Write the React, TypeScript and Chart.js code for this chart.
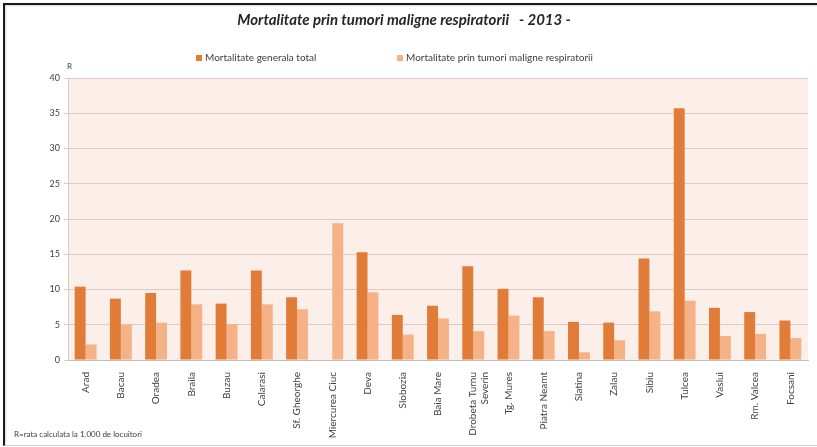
import React, { useEffect, useRef } from 'react';
import { Chart, registerables } from 'chart.js';

Chart.register(...registerables);

const categories: (string | string[])[] = [
  'Arad', 'Bacau', 'Oradea', 'Braila', 'Buzau', 'Calarasi', 'Sf. Gheorghe',
  'Miercurea Ciuc', 'Deva', 'Slobozia', 'Baia Mare', ['Drobeta Turnu', 'Severin'],
  'Tg. Mures', 'Piatra Neamt', 'Slatina', 'Zalau', 'Sibiu', 'Tulcea', 'Vaslui',
  'Rm. Valcea', 'Focsani',
];
const generalTotal: (number | null)[] = [
  10.4, 8.7, 9.5, 12.7, 8.0, 12.7, 8.9, null, 15.3, 6.4, 7.7, 13.3,
  10.1, 8.9, 5.4, 5.3, 14.4, 35.7, 7.4, 6.8, 5.6,
];
const respiratory: number[] = [
  2.2, 5.0, 5.3, 7.9, 5.1, 7.9, 7.2, 19.4, 9.6, 3.6, 5.9, 4.1,
  6.3, 4.1, 1.1, 2.8, 6.9, 8.4, 3.4, 3.7, 3.1,
];
const seriesNames = ['Mortalitate generala total', 'Mortalitate prin tumori maligne respiratorii'];
const titleText = 'Mortalitate prin tumori maligne respiratorii   - 2013 -';
const axisUnit = 'R';
const footnote = 'R=rata calculata la 1.000 de locuitori';
const yMin = 0;
const yMax = 40;
const yStep = 5;

const DARK = '#E07C38';
const LIGHT = '#F5B287';
const FONT = 'Lato, "Open Sans", sans-serif';

const decorPlugin = {
  id: 'decor',
  beforeDraw(chart: any) {
    const { ctx, chartArea } = chart;
    ctx.save();
    ctx.fillStyle = '#FCEEE8';
    ctx.fillRect(chartArea.left, chartArea.top, chartArea.right - chartArea.left, chartArea.bottom - chartArea.top);
    ctx.restore();
  },
  afterDraw(chart: any) {
    const { ctx, chartArea } = chart;
    ctx.save();
    // custom legend
    ctx.font = `10px ${FONT}`;
    ctx.textBaseline = 'middle';
    ctx.textAlign = 'left';
    const legendY = 58;
    const items = [
      { x: 196, color: DARK, text: seriesNames[0] },
      { x: 397, color: LIGHT, text: seriesNames[1] },
    ];
    items.forEach((it) => {
      ctx.fillStyle = it.color;
      ctx.fillRect(it.x, legendY - 3, 6, 6);
      ctx.fillStyle = '#404040';
      ctx.fillText(it.text, it.x + 9, legendY);
    });
    // axis unit
    ctx.font = `8px ${FONT}`;
    ctx.fillStyle = '#404040';
    ctx.fillText(axisUnit, chartArea.left - 1, 66);
    // footnote
    ctx.font = `8px ${FONT}`;
    ctx.fillText(footnote, 14, 434);
    ctx.restore();
  },
};

export default function App() {
  const ref = useRef<HTMLCanvasElement | null>(null);
  useEffect(() => {
    if (!ref.current) return;
    const chart = new Chart(ref.current, {
      type: 'bar',
      data: {
        labels: categories as any,
        datasets: [
          { label: seriesNames[0], data: generalTotal as any, backgroundColor: DARK, barPercentage: 1, categoryPercentage: 0.62 },
          { label: seriesNames[1], data: respiratory, backgroundColor: LIGHT, barPercentage: 1, categoryPercentage: 0.62 },
        ],
      },
      options: {
        animation: false,
        responsive: false,
        maintainAspectRatio: false,
        layout: { padding: { left: 0, right: 9, top: 0, bottom: 0 } },
        plugins: {
          legend: { display: false },
          tooltip: { enabled: false },
          title: {
            display: true,
            text: titleText,
            color: '#262626',
            font: { family: FONT, size: 15, weight: 'bold', style: 'italic' },
            padding: { top: 11, bottom: 49 },
          },
        },
        scales: {
          x: {
            grid: { display: false },
            border: { display: true, color: '#BFBFBF' },
            ticks: {
              color: '#404040',
              font: { family: FONT, size: 10 },
              minRotation: 90,
              maxRotation: 90,
              autoSkip: false,
              padding: 4,
            },
            afterFit(scale: any) { scale.height = 87; },
          },
          y: {
            min: yMin,
            max: yMax,
            ticks: { stepSize: yStep, color: '#404040', font: { family: FONT, size: 9 }, padding: 4 },
            grid: { color: '#D9CAC5', tickLength: 4 },
            border: { display: true, color: '#D9CAC5' },
            afterFit(scale: any) { scale.width = 68; },
          },
        },
      },
      plugins: [decorPlugin],
    });
    return () => chart.destroy();
  }, []);

  return (
    <div style={{ position: 'fixed', left: 0, top: 0, width: 817, height: 447, background: '#fff', overflow: 'hidden' }}>
      <canvas ref={ref} width={817} height={447} style={{ display: 'block' }} />
      <div
        style={{
          position: 'absolute', left: 3, top: 3, width: 830, height: 440,
          borderTop: '2px solid #1a1a1a', borderLeft: '2px solid #1a1a1a',
          borderBottom: '1px solid #cfcfcf', pointerEvents: 'none',
          boxShadow: 'inset 1px 1px 2px rgba(0,0,0,0.15)',
        }}
      />
    </div>
  );
}
